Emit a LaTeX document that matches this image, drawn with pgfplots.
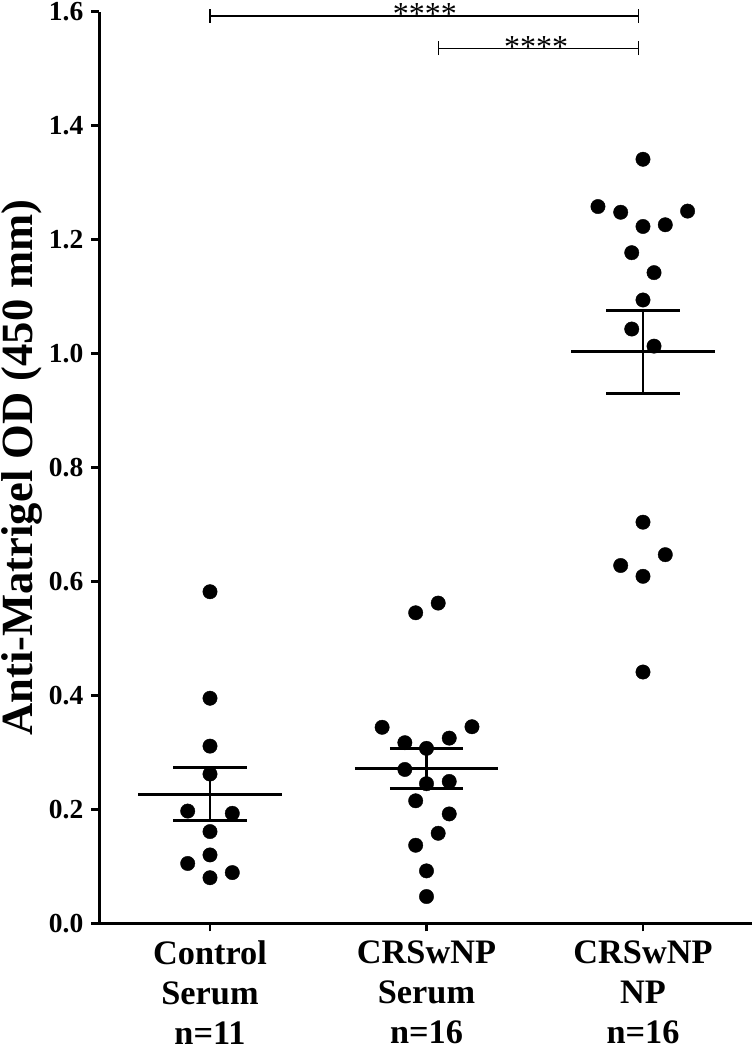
\documentclass[border=0pt]{standalone}
\usepackage{pgfplots}
\usepackage{pgfplotstable}
\pgfplotsset{compat=1.18}
\usepackage{fontspec}
\setmainfont{Liberation Serif}

\pgfplotstableread{
x y
0.000 0.582
0.000 0.395
0.000 0.311
0.000 0.262
-0.103 0.197
0.103 0.193
0.000 0.161
0.000 0.120
-0.103 0.105
0.103 0.089
0.000 0.080
}\ctrl

\pgfplotstableread{
x y
1.054 0.562
0.950 0.545
0.795 0.344
1.210 0.345
0.900 0.317
1.105 0.325
1.000 0.307
0.900 0.270
1.000 0.245
1.105 0.249
0.950 0.215
1.105 0.192
1.054 0.158
0.950 0.137
1.000 0.092
1.000 0.047
}\serum

\pgfplotstableread{
x y
2.000 1.341
1.792 1.258
1.897 1.248
2.206 1.250
2.000 1.223
2.103 1.226
1.948 1.177
2.051 1.142
2.000 1.094
1.948 1.043
2.051 1.013
2.000 0.704
2.103 0.647
1.897 0.628
2.000 0.609
2.000 0.441
}\np

% mean and SEM lines
\pgfplotstableread{
x y
-0.331 0.2264
0.331 0.2264
nan nan
-0.1695 0.274
0.1695 0.274
nan nan
-0.1695 0.180
0.1695 0.180
nan nan
0 0.180
0 0.274
nan nan
0.669 0.272
1.331 0.272
nan nan
0.8305 0.307
1.1695 0.307
nan nan
0.8305 0.237
1.1695 0.237
nan nan
1 0.237
1 0.307
nan nan
1.669 1.003
2.331 1.003
nan nan
1.8305 1.076
2.1695 1.076
nan nan
1.8305 0.930
2.1695 0.930
nan nan
2 0.930
2 1.076
}\errlines

\begin{document}
\begin{tikzpicture}
\begin{axis}[
  at={(0,0)}, anchor=south west,
  scale only axis, width=652.5bp, height=911.6bp,
  xmin=-0.5104, xmax=2.5035, ymin=0, ymax=1.6,
  axis x line*=bottom, axis y line*=left,
  axis line style={-, line width=2.7bp, black},
  xtick={0,1,2},
  xticklabels={{Control\\Serum\\n=11},{CRSwNP\\Serum\\n=16},{CRSwNP\\NP\\n=16}},
  ytick={0,0.2,0.4,0.6,0.8,1.0,1.2,1.4,1.6},
  yticklabels={0.0,0.2,0.4,0.6,0.8,1.0,1.2,1.4,1.6},
  tick align=outside, major tick length=8bp,
  tick style={line width=2.7bp, black},
  xticklabel style={font=\bfseries\fontsize{34.3bp}{40bp}\selectfont, align=center, inner sep=0pt, anchor=north, yshift=-9.5bp},
  yticklabel style={font=\bfseries\fontsize{27.5bp}{27.5bp}\selectfont, inner sep=0pt, anchor=east, xshift=-8bp},
  clip=false,
  unbounded coords=jump,
  ylabel={Anti-Matrigel OD (450 mm)},
  ylabel style={font=\bfseries\fontsize{44.6bp}{44.6bp}\selectfont, at={(axis description cs:-0.1027,0.5)}, anchor=base, inner sep=0pt},
]
\addplot[black, line width=2.7bp, mark=none] table[x=x,y=y] {\errlines};
\addplot[only marks, mark=*, mark size=7.2bp, black] table[x=x,y=y] {\ctrl};
\addplot[only marks, mark=*, mark size=7.2bp, black] table[x=x,y=y] {\serum};
\addplot[only marks, mark=*, mark size=7.2bp, black] table[x=x,y=y] {\np};

\draw[line width=1.3bp] (axis cs:0,1.5925) -- (axis cs:1.98,1.5925);
\draw[line width=1.3bp] ([yshift=-7bp]axis cs:0,1.5925) -- ([yshift=7bp]axis cs:0,1.5925);
\draw[line width=1.3bp] ([yshift=-7bp]axis cs:1.98,1.5925) -- ([yshift=7bp]axis cs:1.98,1.5925);
\node[font=\fontsize{32bp}{32bp}\selectfont, anchor=base, inner sep=0pt] at ([yshift=-9bp]axis cs:0.993,1.5925) {****};

\draw[line width=1.3bp] (axis cs:1.056,1.536) -- (axis cs:1.98,1.536);
\draw[line width=1.3bp] ([yshift=-7bp]axis cs:1.056,1.536) -- ([yshift=7bp]axis cs:1.056,1.536);
\draw[line width=1.3bp] ([yshift=-7bp]axis cs:1.98,1.536) -- ([yshift=7bp]axis cs:1.98,1.536);
\node[font=\fontsize{32bp}{32bp}\selectfont, anchor=base, inner sep=0pt] at ([yshift=-9bp]axis cs:1.506,1.536) {****};
\end{axis}
\pgfresetboundingbox
\path[use as bounding box] (-99.5bp,-126.7bp) rectangle (652.5bp,923.3bp);
\end{tikzpicture}
\end{document}
